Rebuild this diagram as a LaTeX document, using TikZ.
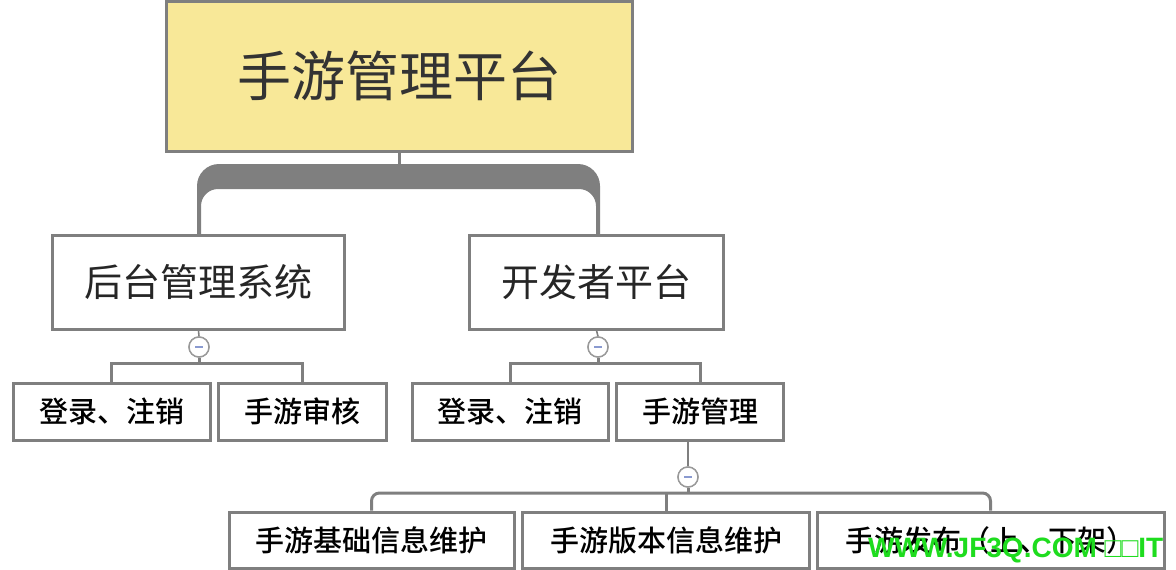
\documentclass[tikz,border=0pt]{standalone}
\usepackage{fontspec}
\newfontfamily\cjk{Noto Sans CJK SC}
\newfontfamily\cjkmed{Noto Sans CJK SC Medium}
\newfontfamily\wmfont{Liberation Sans}
\usetikzlibrary{calc}
\definecolor{bordergray}{HTML}{7F7F7F}
\definecolor{rootfill}{HTML}{F8E898}
\definecolor{rootink}{HTML}{333333}
\definecolor{minusblue}{HTML}{8A9AD0}
\definecolor{wmgreen}{HTML}{1EDC1E}
\tikzset{
  box/.style={draw=bordergray, line width=3pt, fill=white, inner sep=0pt, align=center},
  rootbox/.style={box, fill=rootfill, text=rootink, font=\cjk\fontsize{54}{60}\selectfont},
  midbox/.style={box, text=black!85, font=\cjk\fontsize{38}{44}\selectfont, minimum height=94pt},
  leafbox/.style={box, text=black, font=\cjkmed\fontsize{29}{34}\selectfont, minimum height=57pt},
  conn/.style={draw=bordergray, line width=3pt},
  thinconn/.style={draw=bordergray, line width=1.6pt},
  toggle/.style={circle, draw=bordergray!80, line width=1.4pt, fill=white, minimum size=20pt, inner sep=0pt,
    path picture={\draw[minusblue, line width=1.2pt] ($(path picture bounding box.center)+(-4pt,0)$) -- ($(path picture bounding box.center)+(4pt,0)$);}},
}
\begin{document}
\begin{tikzpicture}[x=1pt, y=-1pt]
\useasboundingbox (0,0) rectangle (1176,570);
% nodes
\node[rootbox, minimum width=466pt, minimum height=150pt] (root) at (399,76) {手游管理平台};
\node[midbox, minimum width=292pt] (l1) at (198.5,282) {后台管理系统};
\node[midbox, minimum width=254pt] (l2) at (596.5,282) {开发者平台};
\node[leafbox, minimum width=197pt] (a1) at (111.5,411.5) {登录、注销};
\node[leafbox, minimum width=168pt] (a2) at (302,411.5) {手游审核};
\node[leafbox, minimum width=196pt] (b1) at (510,411.5) {登录、注销};
\node[leafbox, minimum width=167pt] (b2) at (700,411.5) {手游管理};
\node[leafbox, minimum width=285pt, minimum height=56pt] (c1) at (371.5,540) {手游基础信息维护};
\node[leafbox, minimum width=287pt, minimum height=56pt] (c2) at (666,540) {手游版本信息维护};
\node[leafbox, minimum width=347pt, minimum height=56pt] (c3) at (990.5,540) {手游发布（上、下架）};
% toggles
\node[toggle] (m1) at (199,347) {};
\node[toggle] (m2) at (598,347) {};
\node[toggle] (m3) at (688,477) {};
\coordinate (j1) at (199,363);
\coordinate (j2) at (598,363);
\coordinate (j3) at (688,493);
\coordinate (t3) at (688,442);
% level 1 brace
\draw[conn] (root.south) -- (399,165);
\fill[bordergray] (197,236) [rounded corners=22] -- (197,164) -- (600,164) [sharp corners] -- (600,236) -- (596,236) [rounded corners=17] -- (596,189) -- (201,189) [sharp corners] -- (201,236) -- cycle;
% level 2 connectors
\draw[thinconn] (l1.south) -- (m1.north);
\draw[conn] (m1.south) -- (j1);
\draw[conn] (a1.north) |- (j1) -| (a2.north);
\draw[thinconn] (l2.south) -- (m2.north);
\draw[conn] (m2.south) -- (j2);
\draw[conn] (b1.north) |- (j2) -| (b2.north);
% level 3 connectors
\draw[thinconn] (t3) -- (m3.north);
\draw[conn] (m3.south) -- (j3);
\draw[conn, rounded corners=8] (c1.north) |- (j3) -| (c3.north);
\draw[conn] (c2.north) -- (c2.north |- j3);
% redraw toggles on top
\node[toggle] at (m1) {};
\node[toggle] at (m2) {};
\node[toggle] at (m3) {};
% watermark
\node[anchor=west, inner sep=0pt, text=wmgreen, font=\wmfont\bfseries\fontsize{28}{30}\selectfont] (wm) at (868,550) {WWW.JF3Q.COM □□IT};
\end{tikzpicture}
\end{document}
